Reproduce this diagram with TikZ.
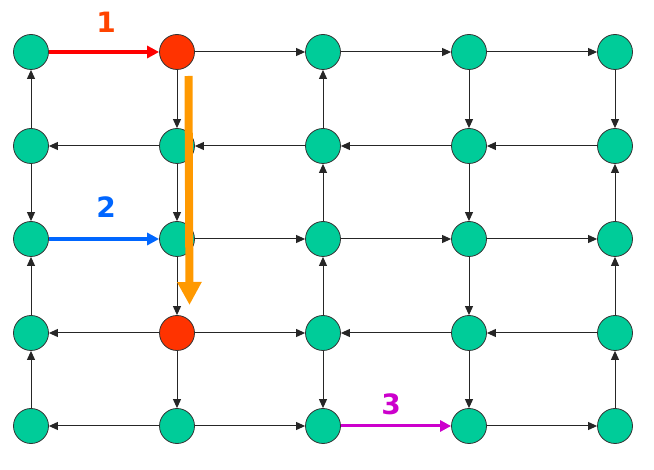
\documentclass[tikz,border=0pt]{standalone}
\usepackage{fontspec}
\setmainfont{DejaVu Sans}
\usetikzlibrary{arrows.meta}
\definecolor{nodegreen}{RGB}{0,204,153}
\definecolor{nodered}{RGB}{255,51,0}
\definecolor{arrred}{RGB}{255,0,0}
\definecolor{arrblue}{RGB}{0,102,255}
\definecolor{arrmag}{RGB}{204,0,204}
\definecolor{arrorange}{RGB}{255,153,0}
\definecolor{lblone}{RGB}{255,68,0}
\begin{document}
\begin{tikzpicture}[x=1pt,y=-1pt,
  vtx/.style={circle,draw=black!80,line width=0.8pt,fill=nodegreen,minimum size=35pt,inner sep=0pt},
  hot/.style={vtx,fill=nodered},
  ed/.style={-{Triangle[length=9pt,width=8pt]},line width=1pt,draw=black!85},
  big/.style={-{Triangle[length=12pt,width=12pt]},line width=3.5pt},
  lbl/.style={font=\bfseries\fontsize{28}{28}\selectfont,inner sep=0pt}]
\useasboundingbox (0,0) rectangle (654,470);
\foreach \r/\y in {0/52,1/146,2/239,3/333,4/426}{
  \foreach \c/\x in {0/31,1/177,2/323,3/469,4/615}{
    \ifnum\r\c=1 \def\st{hot}\else\ifnum\r\c=31 \def\st{hot}\else\def\st{vtx}\fi\fi
    \node[\st] (n\r\c) at (\x,\y) {};
  }
}
% row 0
\draw[ed] (n01) -- (n02);
\draw[ed] (n02) -- (n03);
\draw[ed] (n03) -- (n04);
% row 1
\draw[ed] (n11) -- (n10);
\draw[ed] (n12) -- (n11);
\draw[ed] (n13) -- (n12);
\draw[ed] (n14) -- (n13);
% row 2
\draw[ed] (n21) -- (n22);
\draw[ed] (n22) -- (n23);
\draw[ed] (n23) -- (n24);
% row 3
\draw[ed] (n31) -- (n30);
\draw[ed] (n31) -- (n32);
\draw[ed] (n33) -- (n32);
\draw[ed] (n34) -- (n33);
% row 4
\draw[ed] (n41) -- (n40);
\draw[ed] (n41) -- (n42);
\draw[ed] (n43) -- (n44);
% col 0
\draw[ed] (n10) -- (n00);
\draw[ed] (n10) -- (n20);
\draw[ed] (n30) -- (n20);
\draw[ed] (n40) -- (n30);
% col 1
\draw[ed] (n01) -- (n11);
\draw[ed] (n11) -- (n21);
\draw[ed] (n21) -- (n31);
\draw[ed] (n31) -- (n41);
% col 2
\draw[ed] (n12) -- (n02);
\draw[ed] (n22) -- (n12);
\draw[ed] (n32) -- (n22);
\draw[ed] (n32) -- (n42);
% col 3
\draw[ed] (n03) -- (n13);
\draw[ed] (n13) -- (n23);
\draw[ed] (n23) -- (n33);
\draw[ed] (n33) -- (n43);
% col 4
\draw[ed] (n04) -- (n14);
\draw[ed] (n24) -- (n14);
\draw[ed] (n34) -- (n24);
\draw[ed] (n44) -- (n34);
% highlighted moves
\draw[big,arrred] (n00) -- (n01);
\draw[big,arrblue] (n20) -- (n21);
\draw[-{Triangle[length=11pt,width=11pt]},line width=3pt,arrmag] (n42) -- (n43);
\node[lbl,text=lblone] (l1) at (106,22.5) {1};
\node[lbl,text=arrblue] (l2) at (106,207.5) {2};
\node[lbl,text=arrmag] (l3) at (391,404) {3};
% orange arrow
\coordinate (os) at (188.5,76);
\coordinate (oe) at (189.5,305);
\draw[arrorange,line width=8pt,-{Triangle[length=23pt,width=23pt]}] (os) -- (oe);
\end{tikzpicture}
\end{document}
